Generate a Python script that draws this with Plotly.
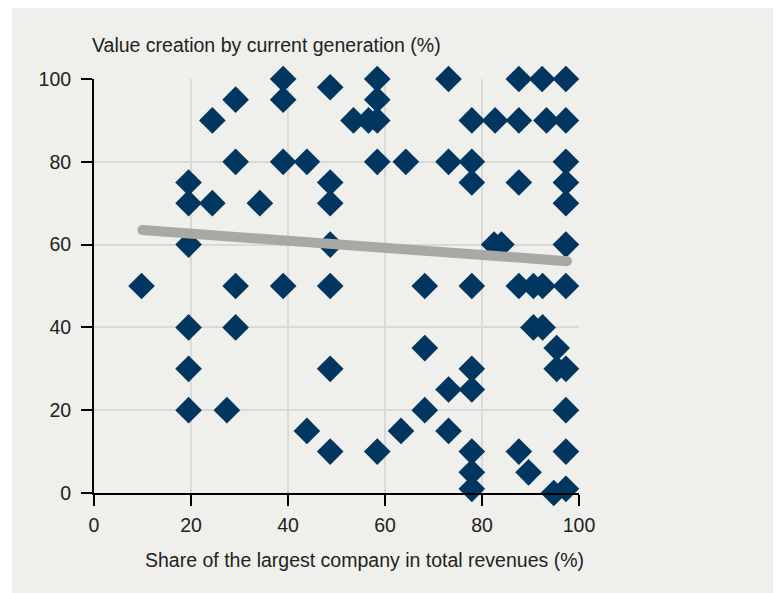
import plotly.graph_objects as go

# Scatter data: share of largest company (%) vs value creation by current generation (%)
share_x = [9.8, 19.5, 19.5, 19.5, 19.5, 19.5, 19.5, 24.4, 24.4, 27.4,
           29.2, 29.2, 29.2, 29.2, 34.2, 39, 39, 39, 39, 43.9,
           43.9, 48.7, 48.7, 48.7, 48.7, 48.7, 48.7, 48.7, 53.5, 56.6,
           58.4, 58.4, 58.4, 58.4, 58.4, 63.3, 64.3, 68.2, 68.2, 68.2,
           73.1, 73.1, 73.1, 73.1, 77.9, 77.9, 77.9, 77.9, 77.9, 77.9,
           77.9, 77.9, 77.9, 82.7, 82.5, 84.0, 87.6, 87.6, 87.6, 87.6,
           87.6, 89.6, 90.6, 90.6, 92.4, 93.3, 92.5, 92.5, 95.4, 95.4,
           94.8, 97.3, 97.3, 97.3, 97.3, 97.3, 97.3, 97.3, 97.3, 97.3,
           97.3, 97.3]
value_y = [50, 75, 70, 60, 40, 30, 20, 90, 70, 20,
           95, 80, 50, 40, 70, 100, 95, 80, 50, 80,
           15, 98, 75, 70, 60, 50, 30, 10, 90, 90,
           90, 100, 95, 80, 10, 15, 80, 50, 35, 20,
           100, 80, 25, 15, 90, 80, 75, 50, 30, 25,
           10, 5, 1, 90, 60, 60, 100, 90, 75, 50,
           10, 5, 50, 40, 100, 90, 50, 40, 35, 30,
           0, 100, 90, 80, 75, 70, 60, 50, 30, 20,
           10, 1]

# Trend line endpoints
trend_x = [10, 97.5]
trend_y = [63.5, 56]

x_ticks = [0, 20, 40, 60, 80, 100]
y_ticks = [0, 20, 40, 60, 80, 100]

x_title = "Share of the largest company in total revenues (%)"
y_title = "Value creation by current generation (%)"

NAVY = "#00365f"
TREND = "#a8a9a4"
BG = "#efefeb"
GRID = "#d9d9d7"
FONT = "Liberation Sans, Arial, sans-serif"
TXT = "#222222"
FS = 19.5

# The page body has an 8px margin, so figure coords = reference coords - 8
OFF = 8
W, H = 781 - OFF, 593 - OFF
L, T = 94 - OFF, 79 - OFF
R = W - (579 - OFF)
B = H - (493 - OFF)
PW, PH = W - L - R, H - T - B


def px_x(p):
    return (p - OFF - L) / PW


def px_y(p):
    return (H - B - (p - OFF)) / PH


fig = go.Figure()
fig.add_trace(go.Scatter(
    x=share_x, y=value_y, mode="markers",
    marker=dict(symbol="diamond", size=20.5, color=NAVY, line=dict(width=0)),
    cliponaxis=False, hoverinfo="x+y", showlegend=False))
fig.add_trace(go.Scatter(
    x=trend_x, y=trend_y, mode="lines+markers",
    line=dict(color=TREND, width=10),
    marker=dict(symbol="circle", size=10, color=TREND, line=dict(width=0)),
    cliponaxis=False, hoverinfo="skip", showlegend=False))

fig.update_layout(
    width=W, height=H,
    margin=dict(l=L, r=R, t=T, b=B, pad=0),
    paper_bgcolor="white", plot_bgcolor=BG,
    font=dict(family=FONT, size=FS, color=TXT),
    shapes=[dict(type="rect", xref="paper", yref="paper", layer="below",
                 x0=px_x(12), x1=px_x(779), y0=px_y(600), y1=px_y(8),
                 fillcolor=BG, line=dict(width=0))],
    annotations=[
        dict(text=y_title, xref="paper", yref="paper", showarrow=False,
             x=px_x(90), y=px_y(45),
             xanchor="left", yanchor="middle", font=dict(size=FS, color=TXT)),
        dict(text=x_title, xref="paper", yref="paper", showarrow=False,
             x=px_x(364.5), y=px_y(560),
             xanchor="center", yanchor="middle", font=dict(size=FS, color=TXT)),
    ],
)
fig.update_xaxes(range=[0, 100], tickvals=x_ticks, ticktext=[str(v) for v in x_ticks],
                 showgrid=True, gridcolor=GRID, gridwidth=2,
                 showline=True, linecolor="black", linewidth=2,
                 ticks="outside", ticklen=11, tickwidth=2, tickcolor="black",
                 ticklabelstandoff=3,
                 zeroline=False, fixedrange=True)
fig.update_yaxes(range=[0, 100], tickvals=y_ticks, ticktext=[str(v) for v in y_ticks],
                 showgrid=True, gridcolor=GRID, gridwidth=2,
                 showline=True, linecolor="black", linewidth=2,
                 ticks="outside", ticklen=11, tickwidth=2, tickcolor="black",
                 ticklabelstandoff=6,
                 zeroline=False, fixedrange=True)

fig.write_html("out.html")
